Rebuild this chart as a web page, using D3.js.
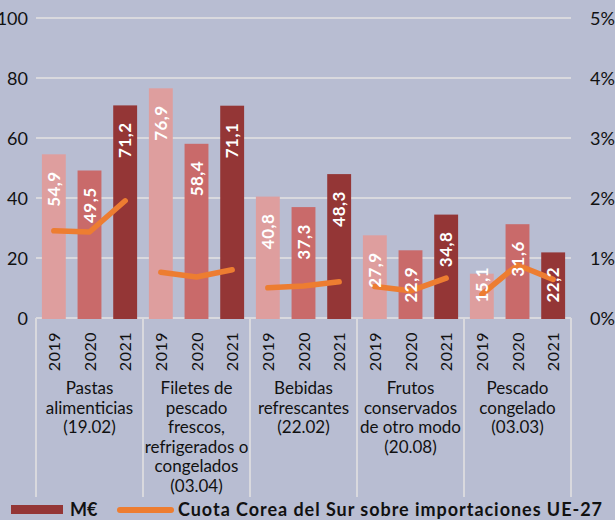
<!DOCTYPE html>
<html>
<head>
<meta charset="utf-8">
<script src="https://cdn.jsdelivr.net/npm/d3@7"></script>
<style>
  body { margin: 0; background: #b8bdd2; }
  svg { display: block; font-family: Lato, "Open Sans", sans-serif; }
</style>
</head>
<body>
<svg id="chart" width="615" height="520"></svg>
<script>
// data
var categories = ["Pastas alimenticias", "Filetes de pescado", "Bebidas refrescantes", "Frutos conservados", "Pescado congelado"];
var categoryLines = [
    ["Pastas", "alimenticias", "(19.02)"],
    ["Filetes de", "pescado", "frescos,", "refrigerados o", "congelados", "(03.04)"],
    ["Bebidas", "refrescantes", "(22.02)"],
    ["Frutos", "conservados", "de otro modo", "(20.08)"],
    ["Pescado", "congelado", "(03.03)"]
];
var years = ["2019", "2020", "2021"];
var millionsEur = [
    [54.9, 49.5, 71.2],
    [76.9, 58.4, 71.1],
    [40.8, 37.3, 48.3],
    [27.9, 22.9, 34.8],
    [15.1, 31.6, 22.2]
];
var shareKorea = [ // % of EU-27 imports
    [1.47, 1.45, 1.97],
    [0.78, 0.70, 0.82],
    [0.52, 0.55, 0.62],
    [0.54, 0.47, 0.68],
    [0.41, 0.90, 0.66]
];
var leftTicks = [0, 20, 40, 60, 80, 100];
var rightTicks = [0, 1, 2, 3, 4, 5];

var yearColors = ["#de9e9e", "#c96a6a", "#943636"];
var lineColor = "#ed7d31";
var gridColor = "#d9d9de";

var margin = {top: 19, left: 36, right: 44},
    width = 615 - margin.left - margin.right,
    plotBottom = 319;

var svg = d3.select("#chart");

var x0 = d3.scaleBand()
    .domain(categories)
    .range([margin.left, margin.left + width]);
var x1 = d3.scaleBand()
    .domain(years)
    .range([0, x0.bandwidth()])
    .paddingInner(0.33)
    .paddingOuter(0.165);
var y = d3.scaleLinear().domain([0, 100]).range([plotBottom, margin.top]);
var y2 = d3.scaleLinear().domain([0, 5]).range([plotBottom, margin.top]);

// gridlines
svg.append("g")
    .selectAll("line")
    .data(leftTicks)
    .enter()
    .append("line")
    .attr("x1", margin.left)
    .attr("x2", margin.left + width)
    .attr("y1", d => y(d) - 1)
    .attr("y2", d => y(d) - 1)
    .attr("stroke", gridColor)
    .attr("stroke-width", 2);

// left axis
svg.append("g")
    .attr("transform", "translate(28,0)")
    .call(d3.axisLeft(y).tickValues(leftTicks).tickSize(0).tickPadding(0))
    .call(g => g.select(".domain").remove())
    .selectAll("text")
    .attr("font-family", "Lato, sans-serif")
    .attr("font-size", 18)
    .attr("fill", "#111");

// right axis
svg.append("g")
    .attr("transform", "translate(590,0)")
    .call(d3.axisRight(y2).tickValues(rightTicks).tickSize(0).tickPadding(0)
        .tickFormat(d => d + "%"))
    .call(g => g.select(".domain").remove())
    .selectAll("text")
    .attr("font-family", "Lato, sans-serif")
    .attr("font-size", 18)
    .attr("fill", "#111");

// group separators
var seps = categories.map(c => x0(c)).concat([x0.range()[1]]);
svg.append("g")
    .selectAll("line")
    .data(seps)
    .enter()
    .append("line")
    .attr("x1", d => d)
    .attr("x2", d => d)
    .attr("y1", plotBottom - 1)
    .attr("y2", 497)
    .attr("stroke", gridColor)
    .attr("stroke-width", 2);

// bars
var groups = svg.append("g")
    .selectAll("g")
    .data(categories)
    .enter()
    .append("g")
    .attr("transform", d => "translate(" + x0(d) + ",0)");

groups.selectAll("rect")
    .data((d, i) => millionsEur[i].map((v, j) => ({year: years[j], value: v, j: j})))
    .enter()
    .append("rect")
    .attr("x", d => x1(d.year))
    .attr("y", d => y(d.value))
    .attr("width", x1.bandwidth())
    .attr("height", d => plotBottom - y(d.value))
    .attr("fill", d => yearColors[d.j]);

// year labels
groups.selectAll(".year")
    .data(years)
    .enter()
    .append("text")
    .attr("class", "year")
    .attr("transform", d => "translate(" + (x1(d) + x1.bandwidth() / 2 + 6) + ",332) rotate(-90)")
    .attr("text-anchor", "end")
    .attr("font-size", 16)
    .attr("letter-spacing", 0.5)
    .attr("fill", "#111")
    .text(d => d);

// category labels
groups.each(function (d, i) {
    var t = d3.select(this).append("text")
        .attr("text-anchor", "middle")
        .attr("font-size", 17)
        .attr("fill", "#111");
    categoryLines[i].forEach((line, k) => {
        t.append("tspan")
            .attr("x", x0.bandwidth() / 2)
            .attr("y", 394 + k * 19.6)
            .text(line);
    });
});

// share line, one segment per category
var line = d3.line()
    .x((d, j) => x1(years[j]) + x1.bandwidth() / 2)
    .y(d => y2(d));
groups.append("path")
    .attr("d", (d, i) => line(shareKorea[i]))
    .attr("fill", "none")
    .attr("stroke", lineColor)
    .attr("stroke-width", 5.5)
    .attr("stroke-linecap", "round")
    .attr("stroke-linejoin", "round");

// value labels
groups.selectAll(".val")
    .data((d, i) => millionsEur[i].map((v, j) => ({year: years[j], value: v})))
    .enter()
    .append("text")
    .attr("class", "val")
    .attr("transform", d => {
        var yy = Math.min(y(d.value) + 17, 267);
        return "translate(" + (x1(d.year) + x1.bandwidth() / 2 + 6) + "," + yy + ") rotate(-90)";
    })
    .attr("text-anchor", "end")
    .attr("font-size", 17)
    .attr("font-weight", "bold")
    .attr("letter-spacing", 0.5)
    .attr("fill", "#fff")
    .text(d => d3.format(".1f")(d.value).replace(".", ","));

// legend
var legend = svg.append("g");
legend.append("rect")
    .attr("x", 11).attr("y", 505)
    .attr("width", 52).attr("height", 9)
    .attr("fill", yearColors[2]);
legend.append("text")
    .attr("x", 70).attr("y", 516)
    .attr("font-size", 18).attr("font-weight", "bold").attr("fill", "#111")
    .text("M€");
legend.append("line")
    .attr("x1", 120).attr("x2", 171)
    .attr("y1", 510).attr("y2", 510)
    .attr("stroke", lineColor).attr("stroke-width", 6)
    .attr("stroke-linecap", "round");
legend.append("text")
    .attr("x", 178).attr("y", 516)
    .attr("font-size", 18).attr("font-weight", "bold").attr("fill", "#111")
    .attr("textLength", 424)
    .text("Cuota Corea del Sur sobre importaciones UE-27");
</script>
</body>
</html>
